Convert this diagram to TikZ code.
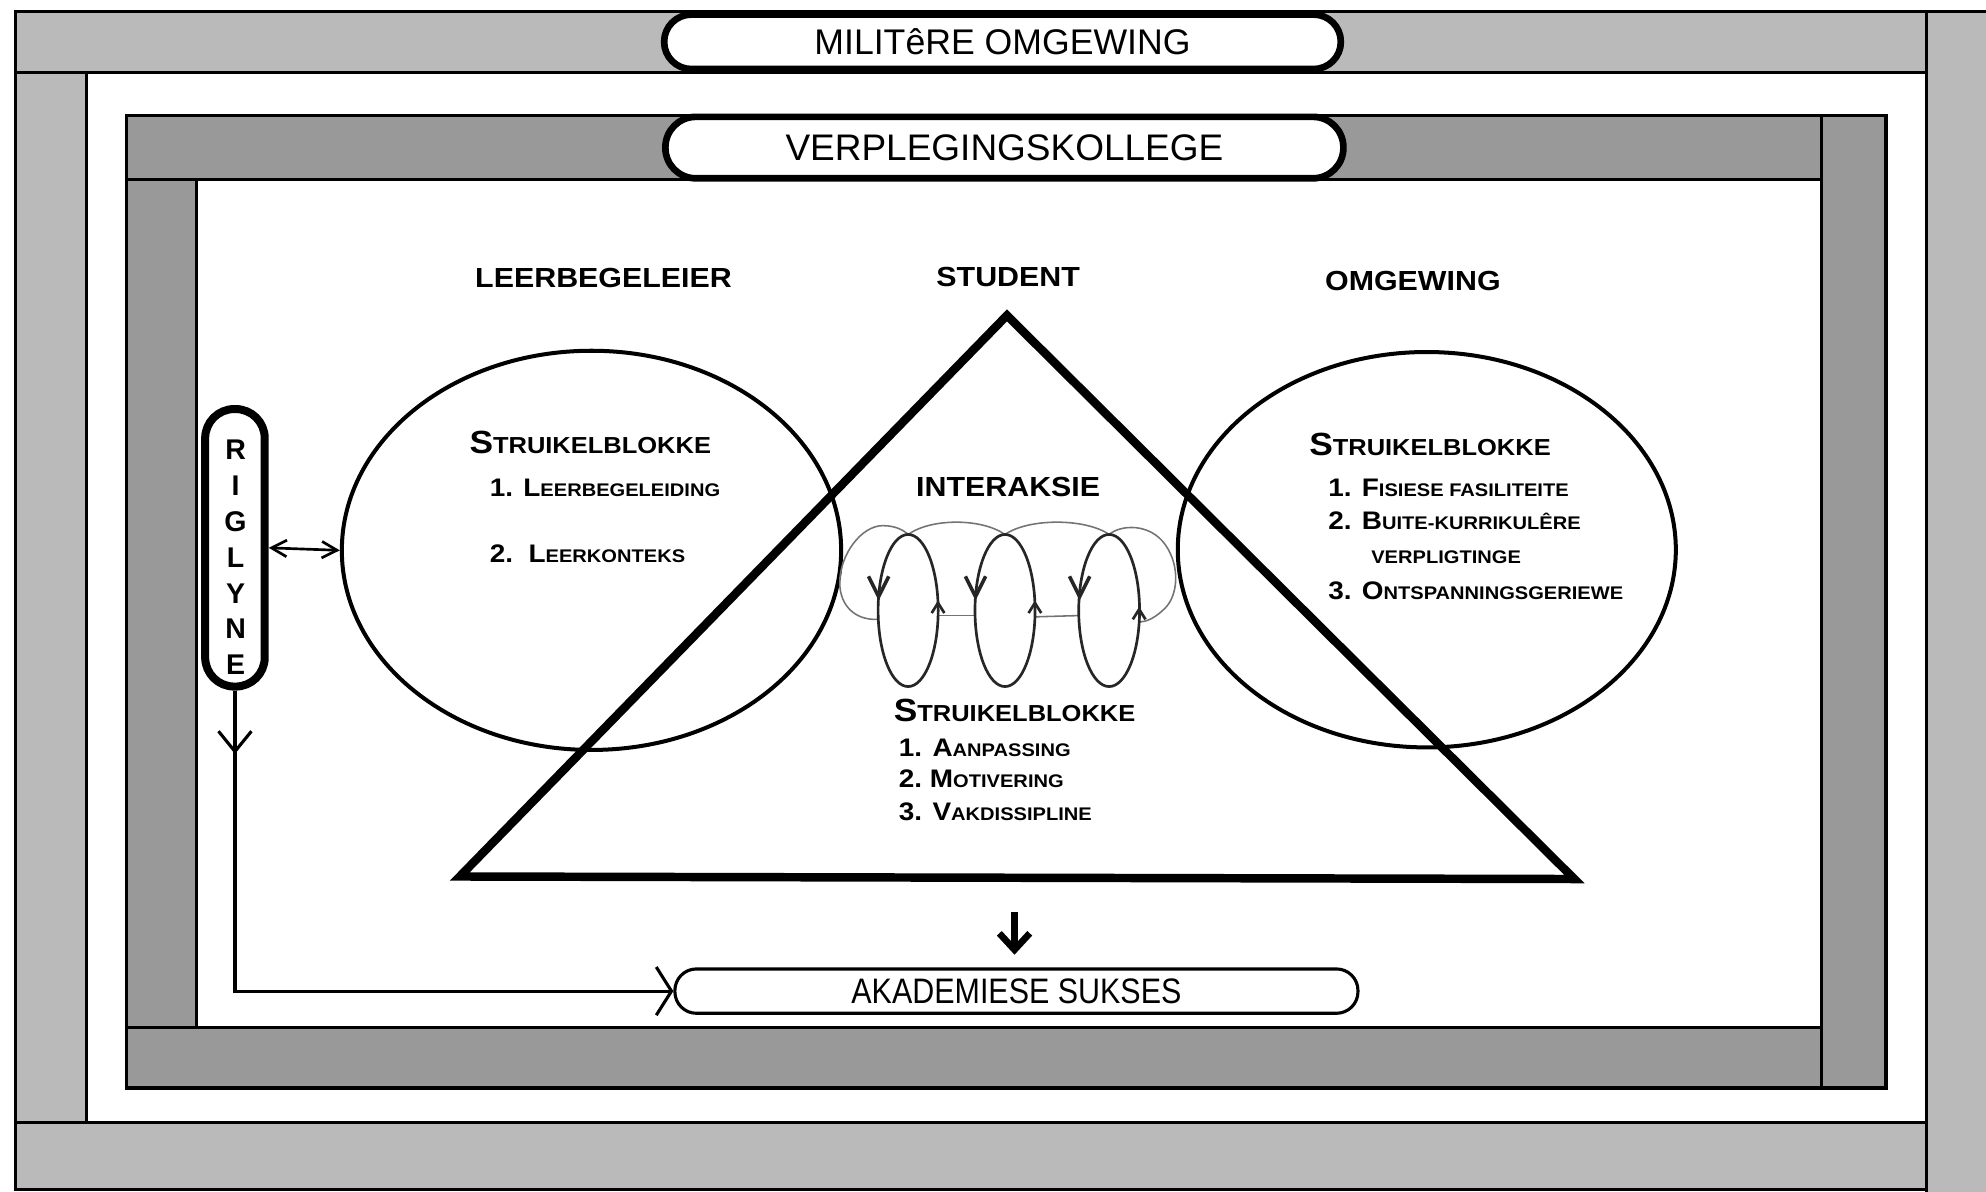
\documentclass[tikz,border=0pt]{standalone}
\usepackage{fontspec}
\setmainfont{Liberation Sans}
\newfontfamily\labf{Liberation Sans}[FakeStretch=1.1]
\newfontfamily\narrowf{Liberation Sans}[FakeStretch=0.86]
\usetikzlibrary{shapes.geometric,arrows.meta,decorations.markings}
\newcommand\skHB{\fontsize{7.2}{8.6}\selectfont}
\newcommand\skHS{\fontsize{5.2}{6.2}\selectfont}
\newcommand\skLB{\fontsize{5.7}{6.8}\selectfont}
\newcommand\skLS{\fontsize{4.1}{5}\selectfont}
\begin{document}
\begin{tikzpicture}[x=0.01cm,y=-0.01cm,
  outerband/.style={fill=black!27, draw=black, line width=0.7pt},
  innerband/.style={fill=black!40, draw=black, line width=0.7pt},
  pill/.style={draw=black, fill=white, line width=1.5pt, inner sep=0pt},
  lab/.style={font={\labf\bfseries\fontsize{6.2}{7.4}\selectfont}, anchor=base, inner sep=0pt},
  sk/.style={font={\labf\bfseries}, anchor=base west, inner sep=0pt},
  bigell/.style={draw, ellipse, line width=0.9pt, inner sep=0pt},
  coilth/.style={line width=0.6pt, draw=black!85},
  coiltn/.style={line width=0.35pt, draw=black!55},
  conn/.style={line width=0.7pt}
]
\useasboundingbox (0,0) rectangle (1568,941);
\fill[white] (0,0) rectangle (1568,941);

% outer frame
\fill[black!27] (1521,9) rectangle (1568,941);
\draw[line width=0.7pt] (1521,941) -- (1521,9) -- (1568,9);
\draw[outerband] (12,9) rectangle (1521,57);
\draw[outerband] (12,57) rectangle (68,886);
\draw[outerband] (12,886) rectangle (1521,939);

% inner frame
\draw[innerband] (100,91) rectangle (1438,142);
\draw[innerband] (100,142) rectangle (155,811);
\draw[innerband] (100,811) rectangle (1438,859);
\draw[innerband] (1438,91) rectangle (1489,859);

% title pills
\node[pill, rounded corners=0.215cm, minimum width=5.34cm, minimum height=0.43cm,
      font={\fontsize{8}{9.6}\selectfont}] (mil) at (791.5,33) {MILITêRE OMGEWING};
\node[pill, rounded corners=0.24cm, minimum width=5.35cm, minimum height=0.485cm,
      font={\fontsize{8.3}{10}\selectfont}] (vk) at (793,116.5) {VERPLEGINGSKOLLEGE};

% labels
\node[lab] (lbl) at (476.5,227) {LEERBEGELEIER};
\node[lab] (stud) at (796,226) {STUDENT};
\node[lab] (omg) at (1115.5,229) {OMGEWING};
\node[lab] (inter) at (796,392) {INTERAKSIE};

% ellipses
\node[bigell, minimum width=3.94cm, minimum height=3.15cm] (lell) at (467,434.5) {};
\node[bigell, minimum width=3.93cm, minimum height=3.12cm] (rell) at (1126.5,434) {};

% triangle
\coordinate (tA) at (795,249);
\coordinate (tB) at (363,692);
\coordinate (tC) at (1243,694);
\draw[line width=1.9pt, line join=miter] (tA) -- (tB) -- (tC) -- cycle;

% left ellipse text
\node[sk] (lh) at (370,358) {\skHB S\skHS TRUIKELBLOKKE};
\node[sk] (l1) at (386,392) {\skLB 1. L\skLS EERBEGELEIDING};
\node[sk] (l2) at (386,444) {\skLB 2.\ \ L\skLS EERKONTEKS};

% right ellipse text
\node[sk] (rh) at (1033,360) {\skHB S\skHS TRUIKELBLOKKE};
\node[sk] (r1) at (1048,392) {\skLB 1. F\skLS ISIESE FASILITEITE};
\node[sk] (r2) at (1048,418) {\skLB 2. B\skLS UITE-KURRIKULÊRE};
\node[sk] (r2b) at (1082,445) {\skLS VERPLIGTINGE};
\node[sk] (r3) at (1048,473) {\skLB 3. O\skLS NTSPANNINGSGERIEWE};

% centre text
\node[sk] (ch) at (705,570) {\skHB S\skHS TRUIKELBLOKKE};
\node[sk] (c1) at (709,597) {\skLB 1. A\skLS ANPASSING};
\node[sk] (c2) at (709,622) {\skLB 2.\ M\skLS OTIVERING};
\node[sk] (c3) at (709,648) {\skLB 3. V\skLS AKDISSIPLINE};

% coil: thin back arcs
\draw[coiltn] (693.5,489) .. controls (675,490) and (663,478) .. (663,460)
   .. controls (663,438) and (680,415) .. (697,415)
   .. controls (706,415) and (713,418) .. (717,422);
\draw[coiltn] (717,422) .. controls (735,409) and (775,409) .. (793.5,422);
\draw[coiltn] (793.5,422) .. controls (812,409) and (857,409) .. (875.7,422);
\draw[coiltn] (875.7,422) .. controls (885,414) and (908,413) .. (920,430)
   .. controls (932,447) and (930,470) .. (920,480)
   .. controls (913,487) and (906,491) .. (899.5,491);
\draw[coiltn] (740.6,486) -- (769.9,486);
\draw[coiltn] (817.2,487) -- (852,486);
% coil: front loops
\draw[coilth] (717,482) ellipse [x radius=0.237cm, y radius=0.6cm];
\draw[coilth] (793.5,482) ellipse [x radius=0.237cm, y radius=0.6cm];
\draw[coilth] (875.7,482) ellipse [x radius=0.24cm, y radius=0.6cm];
% coil arrowheads
\draw[coilth, line width=0.8pt] (685.7,455) -- (693.7,471) -- (701.7,455);
\draw[coilth, line width=0.8pt] (762.2,455) -- (770.2,471) -- (778.2,455);
\draw[coilth, line width=0.8pt] (844.4,455) -- (852.4,471) -- (860.4,455);
\draw[coilth] (735.6,484) -- (740.6,476) -- (745.6,484);
\draw[coilth] (812.1,484) -- (817.1,476) -- (822.1,484);
\draw[coilth] (894.4,489) -- (899.4,481) -- (904.4,489);

% RIGLYNE
\node[draw, line width=1.8pt, fill=white, rounded corners=0.23cm, minimum width=0.47cm,
      minimum height=2.19cm, inner sep=0pt] (rig) at (185.5,432.5) {};
\node[font={\bfseries\fontsize{6.4}{8.06}\selectfont}, align=center, inner sep=0pt]
      (rigt) at (186,440) {R\\I\\G\\L\\Y\\N\\E};

% AKADEMIESE SUKSES
\node[draw, line width=0.7pt, rounded corners=0.17cm, minimum width=5.39cm, minimum height=0.35cm,
      inner sep=0pt, font={\narrowf\fontsize{7.95}{9.5}\selectfont}] (ak) at (802.5,782.5) {AKADEMIESE SUKSES};

% connectors
\draw[conn, line width=0.6pt, {Straight Barb[length=0.12cm,width=0.13cm]}-{Straight Barb[length=0.12cm,width=0.13cm]}]
      (rig.east) -- (lell.west);
\draw[conn, -{Straight Barb[length=0.12cm,width=0.38cm]}, postaction={decorate},
      decoration={markings, mark=at position 0.5cm with {\arrow{Straight Barb[length=0.16cm,width=0.26cm]}}}]
      (rig.south) |- (ak.west);
\coordinate (dA) at (801,720);
\draw[line width=1.5pt, -{Straight Barb[length=0.13cm,width=0.24cm]}, shorten >=0.1cm] (dA) -- (dA |- ak.north);
\end{tikzpicture}
\end{document}
